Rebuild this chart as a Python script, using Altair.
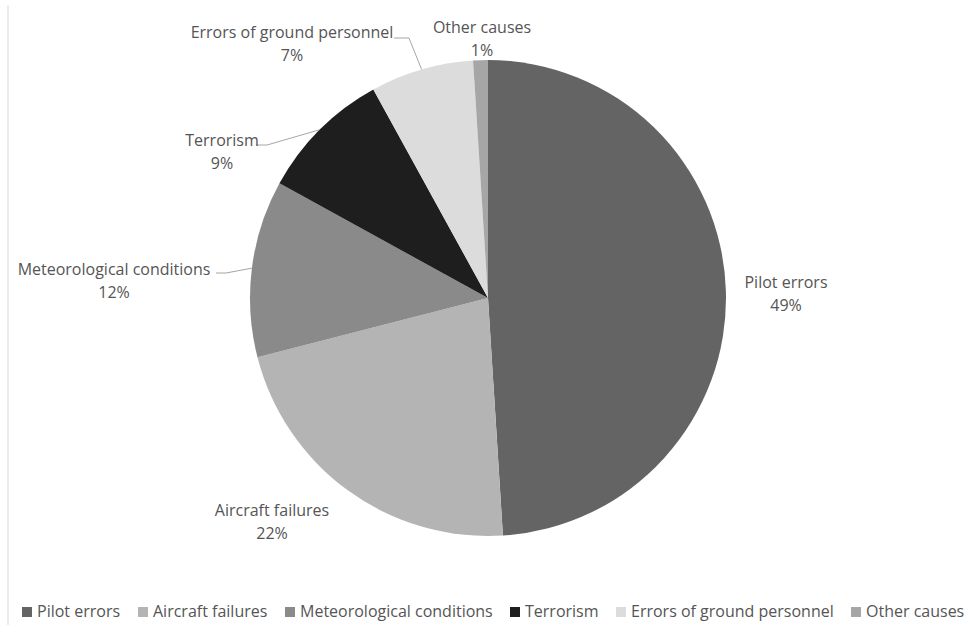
import altair as alt
import numpy as np
import pandas as pd

# Causes of air accidents and their share of all accidents (%)
categories = [
    "Pilot errors",
    "Aircraft failures",
    "Meteorological conditions",
    "Terrorism",
    "Errors of ground personnel",
    "Other causes",
]
shares = [49, 22, 12, 9, 7, 1]
colors = ["#646464", "#b4b4b4", "#8a8a8a", "#1e1e1e", "#dcdcdc", "#a6a6a6"]

# Layout of the pie and its labels (pixels)
W, H = 977, 625
CX, CY, R = 488, 298, 238
FONT = "Open Sans"
TEXT_COLOR = "#555555"
LABEL_SIZE = 16
LINE_GAP = 23

# centre of the first label line for each cause
label_anchor = {
    "Pilot errors": (786, 283),
    "Aircraft failures": (272, 511),
    "Meteorological conditions": (114, 270),
    "Terrorism": (222, 141),
    "Errors of ground personnel": (292, 33),
    "Other causes": (482, 28),
}
# start and elbow of leader lines; they end on the rim at the slice's mid-angle
leader_start = {
    "Meteorological conditions": [(216, 273), (226, 273)],
    "Terrorism": [(256, 145), (267, 145)],
    "Errors of ground personnel": [(394, 38), (409, 38)],
}

pie_df = pd.DataFrame({"cause": categories, "share": shares, "idx": range(len(categories))})

label_df = pd.DataFrame({
    "cause": categories,
    "pct": [f"{s}%" for s in shares],
    "lx": [label_anchor[c][0] for c in categories],
    "ly": [label_anchor[c][1] for c in categories],
})

# mid-angle of each slice, measured clockwise from 12 o'clock
cum = np.cumsum(shares)
mid = (cum - np.array(shares) / 2) / sum(shares) * 2 * np.pi
rows = []
for c, a in zip(categories, mid):
    if c not in leader_start:
        continue
    pts = leader_start[c] + [(CX + R * np.sin(a), CY - R * np.cos(a))]
    for k, (px, py) in enumerate(pts):
        rows.append({"cause": c, "k": k, "px": px, "py": py})
leader_df = pd.DataFrame(rows)

color_scale = alt.Scale(domain=categories, range=colors)

arcs = alt.Chart(pie_df).mark_arc(radius=R).encode(
    theta=alt.Theta("share:Q", stack=True),
    order=alt.Order("idx:Q"),
    color=alt.Color(
        "cause:N",
        scale=color_scale,
        sort=categories,
        legend=alt.Legend(
            title=None,
            orient="none",
            direction="horizontal",
            legendX=19,
            legendY=604,
            symbolType="square",
            symbolSize=100,
            symbolStrokeWidth=0,
            labelFont=FONT,
            labelFontSize=LABEL_SIZE,
            labelColor=TEXT_COLOR,
            labelLimit=400,
            labelOffset=2,
            columnPadding=14,
            padding=0,
        ),
    ),
    x=alt.value(CX),
    y=alt.value(CY),
)

names = alt.Chart(label_df).mark_text(
    font=FONT, fontSize=LABEL_SIZE, color=TEXT_COLOR, align="center", baseline="middle"
).encode(
    x=alt.X("lx:Q", scale=None),
    y=alt.Y("ly:Q", scale=None),
    text="cause:N",
)

pcts = alt.Chart(label_df).mark_text(
    font=FONT, fontSize=LABEL_SIZE, color=TEXT_COLOR, align="center", baseline="middle", dy=LINE_GAP
).encode(
    x=alt.X("lx:Q", scale=None),
    y=alt.Y("ly:Q", scale=None),
    text="pct:N",
)

leaders = alt.Chart(leader_df).mark_line(color="#a6a6a6", strokeWidth=1).encode(
    x=alt.X("px:Q", scale=None),
    y=alt.Y("py:Q", scale=None),
    detail="cause:N",
    order="k:Q",
)

border = alt.Chart(pd.DataFrame({"v": [0]})).mark_rule(color="#d9d9d9", strokeWidth=1).encode(
    x=alt.value(8), y=alt.value(5), y2=alt.value(H)
)

chart = (
    alt.layer(border, arcs, leaders, names, pcts)
    .properties(width=W, height=H, autosize=alt.AutoSizeParams(type="none"), padding=0)
    .configure_view(stroke=None)
    .resolve_scale(color="shared")
)

chart.save("out.html", embed_options={"renderer": "svg", "actions": False})
